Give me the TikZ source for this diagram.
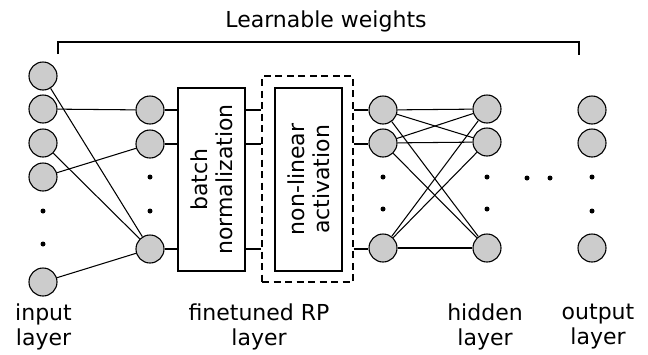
\documentclass[tikz,border=0pt]{standalone}
\usepackage{fontspec}
\setmainfont{DejaVu Sans}
\begin{document}
\begin{tikzpicture}[x=1pt,y=-1pt,
  neuron/.style={circle,draw,fill=black!20,line width=1.1pt,minimum size=28pt,inner sep=0pt},
  vdot/.style={circle,fill=black,minimum size=5pt,inner sep=0pt},
  boxnode/.style={draw,line width=1.1pt,minimum width=67pt,minimum height=183pt,inner sep=0pt},
  dashbox/.style={draw,line width=1.3pt,dash pattern=on 7pt off 4.5pt,minimum width=91pt,minimum height=206pt,inner sep=0pt},
  conn/.style={line width=1.05pt},
  lbl/.style={font=\fontsize{22}{25}\selectfont,align=center,inner sep=0pt},
  every node/.append style={font=\fontsize{22}{25}\selectfont}
]
\useasboundingbox (0,0) rectangle (648,354);

% input layer
\node[neuron] (i1) at (43,76) {};
\node[neuron] (i2) at (43,109) {};
\node[neuron] (i3) at (43,143) {};
\node[neuron] (i4) at (43,177) {};
\node[vdot] (id1) at (43,211) {};
\node[vdot] (id2) at (43,244) {};
\node[neuron] (i5) at (43,282) {};

% RP layer neurons
\node[neuron] (b1) at (150,110) {};
\node[neuron] (b2) at (150,144) {};
\node[vdot] (bd1) at (150,177) {};
\node[vdot] (bd2) at (150,211) {};
\node[neuron] (b3) at (150,249) {};

% boxes
\node[boxnode] (bn) at (211.5,179.5) {};
\node[lbl,rotate=90] (bnl) at (bn) {batch\\normalization};
\node[dashbox] (dash) at (307.5,179) {};
\node[boxnode] (nla) at (308.5,179.5) {};
\node[lbl,rotate=90] (nlal) at (nla) {non-linear\\activation};

% hidden layer A
\node[neuron] (h1) at (383,110) {};
\node[neuron] (h2) at (383,143) {};
\node[vdot] (hd1) at (383,177) {};
\node[vdot] (hd2) at (383,209) {};
\node[neuron] (h3) at (383,248) {};

% hidden layer B
\node[neuron] (g1) at (487,109) {};
\node[neuron] (g2) at (487,142) {};
\node[vdot] (gd1) at (487,177) {};
\node[vdot] (gd2) at (487,209) {};
\node[neuron] (g3) at (487,248) {};

% horizontal dots
\node[vdot] (hz1) at (527,178) {};
\node[vdot] (hz2) at (550,178) {};

% output layer
\node[neuron] (o1) at (592,110) {};
\node[neuron] (o2) at (592,143) {};
\node[vdot] (od1) at (592,177) {};
\node[vdot] (od2) at (592,211) {};
\node[neuron] (o3) at (592,248) {};

% input -> RP connections
\draw[conn] (i1) -- (b3);
\draw[conn] (i2) -- (b1);
\draw[conn] (i3) -- (b3);
\draw[conn] (i4) -- (b2);
\draw[conn] (i5) -- (b3);

% RP neurons -> batch norm -> dashed box -> hidden
\foreach \n in {b1,b2,b3}{
  \draw[conn] (\n) -- (bn.west |- \n);
  \draw[conn] (bn.east |- \n) -- (dash.west |- \n);
  \draw[conn] (dash.east |- \n) -- (\n -| h1.west);
}

% hidden A -> hidden B full connections
\foreach \a in {h1,h2,h3}{
  \foreach \b in {g1,g2,g3}{
    \draw[conn] (\a) -- (\b);
  }
}

% bracket
\coordinate (brl) at (58,54);
\coordinate (brlt) at (58,42);
\coordinate (brrt) at (579,42);
\coordinate (brr) at (579,55);
\draw[line width=1.2pt] (brl) -- (brlt) -- (brrt) -- (brr);
\node[anchor=base,inner sep=0pt] (lw) at (326,27) {Learnable weights};

% bottom labels
\node[lbl] (lin) at (43.5,327) {input\\layer};
\node[lbl] (lrp) at (259,327) {finetuned RP\\layer};
\node[lbl] (lhid) at (485,327) {hidden\\layer};
\node[lbl] (lout) at (598,327) {output\\layer};
\end{tikzpicture}
\end{document}
